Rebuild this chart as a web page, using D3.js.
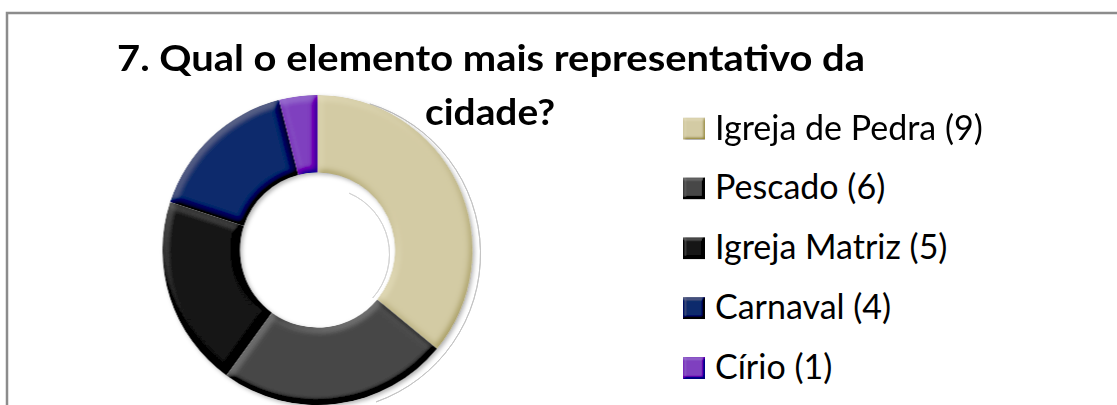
<!DOCTYPE html>
<html>
<head>
<meta charset="utf-8">
<script src="https://cdn.jsdelivr.net/npm/d3@7"></script>
<style>
  body { margin: 0; background: #fff; }
  svg { display: block; }
</style>
</head>
<body>
<div id="chart"></div>
<script>
const categories = ["Igreja de Pedra", "Pescado", "Igreja Matriz", "Carnaval", "Círio"];
const counts = [9, 6, 5, 4, 1];
const colors = ["#d3cba4", "#474747", "#121212", "#0b2b6b", "#7f3fbf"];
const titleLines = ["7. Qual o elemento mais representativo da", "cidade?"];

const width = 1117;
const height = 405;
const cx = 317.5, cy = 250;
const outerR = 155, innerR = 77.5;

const data = categories.map((c, i) => ({ name: c, value: counts[i], color: colors[i] }));

const svg = d3.select("#chart")
    .append("svg")
    .attr("width", width)
    .attr("height", height);

const defs = svg.append("defs");

// soft bevel on each slice, lit from the top left
function bevelFilter(id, blur, scale, k3) {
    const elev = 55;
    const f = defs.append("filter").attr("id", id)
        .attr("x", "-10%").attr("y", "-10%").attr("width", "120%").attr("height", "120%");
    f.append("feGaussianBlur").attr("in", "SourceAlpha").attr("stdDeviation", blur).attr("result", "blur");
    f.append("feDiffuseLighting").attr("in", "blur").attr("surfaceScale", scale)
        .attr("diffuseConstant", 1).attr("lighting-color", "#fff").attr("result", "light")
        .append("feDistantLight").attr("azimuth", 235).attr("elevation", elev);
    f.append("feComposite").attr("in", "SourceGraphic").attr("in2", "light")
        .attr("operator", "arithmetic").attr("k1", 0).attr("k2", 1)
        .attr("k3", k3).attr("k4", -k3 * Math.sin(elev * Math.PI / 180))
        .attr("result", "lit");
    f.append("feComposite").attr("in", "lit").attr("in2", "SourceAlpha").attr("operator", "in");
}
bevelFilter("bevel", 3.5, 3, 0.5);
bevelFilter("bevelSmall", 1.8, 2.5, 0.5);

const drop = defs.append("filter").attr("id", "drop")
    .attr("x", "-10%").attr("y", "-10%").attr("width", "120%").attr("height", "120%");
drop.append("feDropShadow").attr("dx", 2).attr("dy", 2).attr("stdDeviation", 2)
    .attr("flood-color", "#000").attr("flood-opacity", 0.3);

// chart frame (only top and left edges show in the crop)
svg.append("rect")
    .attr("x", 7).attr("y", 13)
    .attr("width", width + 40).attr("height", height + 40)
    .attr("fill", "none")
    .attr("stroke", "#8c8c8c")
    .attr("stroke-width", 2.5);

// faint shadow outlines to the lower right of the ring
const ghost = svg.append("g").attr("transform", `translate(${cx + 6}, ${cy + 4})`);
ghost.append("path")
    .attr("d", d3.arc()({ innerRadius: 157, outerRadius: 157, startAngle: 0.3, endAngle: 2.8 }))
    .attr("fill", "none").attr("stroke", "#c4c4c4").attr("stroke-width", 1);
ghost.append("path")
    .attr("d", d3.arc()({ innerRadius: 66, outerRadius: 66, startAngle: 0.4, endAngle: 2.3 }))
    .attr("fill", "none").attr("stroke", "#d4d4d4").attr("stroke-width", 1);

const pie = d3.pie().sort(null).value(d => d.value).startAngle(0).endAngle(2 * Math.PI);
const arc = d3.arc().innerRadius(innerR).outerRadius(outerR);

const donut = svg.append("g")
    .attr("transform", `translate(${cx}, ${cy})`)
    .attr("filter", "url(#drop)");

donut.selectAll("path")
    .data(pie(data))
    .enter()
    .append("path")
    .attr("d", arc)
    .attr("fill", d => d.data.color)
    .attr("filter", "url(#bevel)");

// title
const titleBaselines = [70.5, 125];
const titleCenters = [491, 490];
const titleWidths = [748, 130];
svg.selectAll(".title")
    .data(titleLines)
    .enter()
    .append("text")
    .attr("class", "title")
    .attr("x", (d, i) => titleCenters[i])
    .attr("y", (d, i) => titleBaselines[i])
    .attr("text-anchor", "middle")
    .attr("textLength", (d, i) => titleWidths[i])
    .attr("lengthAdjust", "spacingAndGlyphs")
    .style("font-family", "Lato, 'Open Sans', sans-serif")
    .style("font-weight", "bold")
    .style("font-size", "37px")
    .attr("fill", "#000")
    .text(d => d);

// legend
const legendY = d3.scalePoint().domain(categories).range([139.5, 379]);
const legend = svg.selectAll(".legend")
    .data(data)
    .enter()
    .append("g")
    .attr("class", "legend")
    .attr("transform", d => `translate(683, ${legendY(d.name)})`);

legend.append("rect")
    .attr("x", 0)
    .attr("y", -22)
    .attr("width", 22)
    .attr("height", 22)
    .attr("fill", d => d.color)
    .attr("filter", "url(#bevelSmall)");

legend.append("text")
    .attr("x", 32)
    .attr("y", 0)
    .style("font-family", "Lato, 'Open Sans', sans-serif")
    .style("font-size", "34px")
    .attr("fill", "#000")
    .text(d => `${d.name} (${d.value})`);
</script>
</body>
</html>
